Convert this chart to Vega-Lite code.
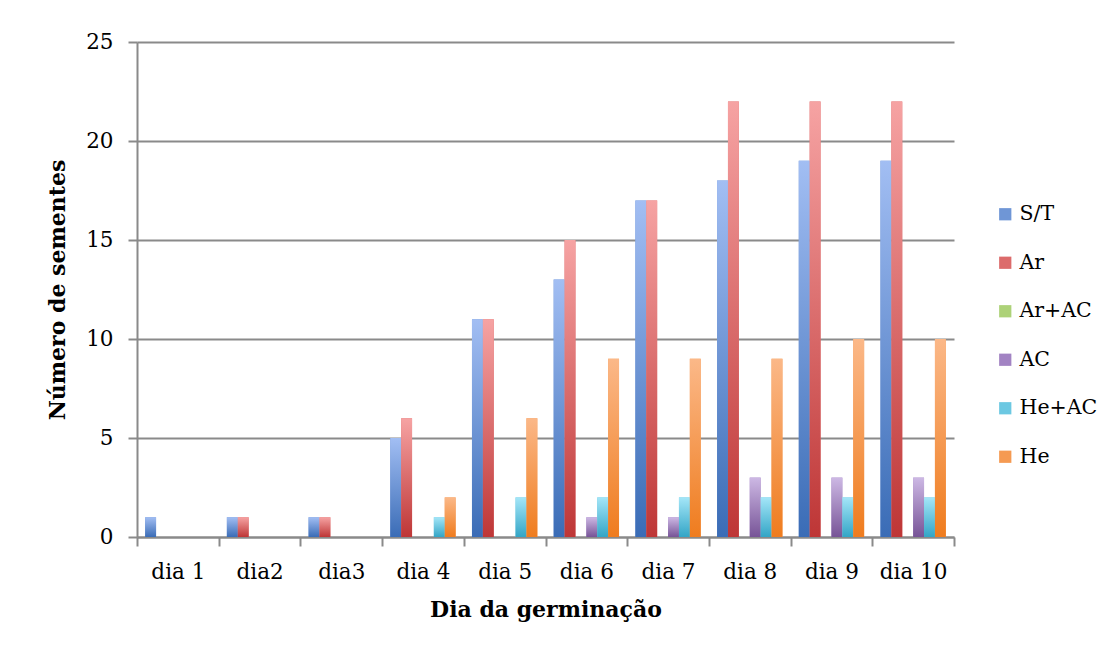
{
  "$schema": "https://vega.github.io/schema/vega-lite/v6.json",
  "width": 817,
  "height": 495,
  "autosize": {"type": "none"},
  "padding": {"left": 137, "top": 42, "right": 156, "bottom": 113},
  "background": "white",
  "data": {
    "values": [
      {"dia": "dia 1", "grupo": "S/T", "n": 1}, {"dia": "dia 1", "grupo": "Ar", "n": 0}, {"dia": "dia 1", "grupo": "Ar+AC", "n": 0}, {"dia": "dia 1", "grupo": "AC", "n": 0}, {"dia": "dia 1", "grupo": "He+AC", "n": 0}, {"dia": "dia 1", "grupo": "He", "n": 0},
      {"dia": "dia2", "grupo": "S/T", "n": 1}, {"dia": "dia2", "grupo": "Ar", "n": 1}, {"dia": "dia2", "grupo": "Ar+AC", "n": 0}, {"dia": "dia2", "grupo": "AC", "n": 0}, {"dia": "dia2", "grupo": "He+AC", "n": 0}, {"dia": "dia2", "grupo": "He", "n": 0},
      {"dia": "dia3", "grupo": "S/T", "n": 1}, {"dia": "dia3", "grupo": "Ar", "n": 1}, {"dia": "dia3", "grupo": "Ar+AC", "n": 0}, {"dia": "dia3", "grupo": "AC", "n": 0}, {"dia": "dia3", "grupo": "He+AC", "n": 0}, {"dia": "dia3", "grupo": "He", "n": 0},
      {"dia": "dia 4", "grupo": "S/T", "n": 5}, {"dia": "dia 4", "grupo": "Ar", "n": 6}, {"dia": "dia 4", "grupo": "Ar+AC", "n": 0}, {"dia": "dia 4", "grupo": "AC", "n": 0}, {"dia": "dia 4", "grupo": "He+AC", "n": 1}, {"dia": "dia 4", "grupo": "He", "n": 2},
      {"dia": "dia 5", "grupo": "S/T", "n": 11}, {"dia": "dia 5", "grupo": "Ar", "n": 11}, {"dia": "dia 5", "grupo": "Ar+AC", "n": 0}, {"dia": "dia 5", "grupo": "AC", "n": 0}, {"dia": "dia 5", "grupo": "He+AC", "n": 2}, {"dia": "dia 5", "grupo": "He", "n": 6},
      {"dia": "dia 6", "grupo": "S/T", "n": 13}, {"dia": "dia 6", "grupo": "Ar", "n": 15}, {"dia": "dia 6", "grupo": "Ar+AC", "n": 0}, {"dia": "dia 6", "grupo": "AC", "n": 1}, {"dia": "dia 6", "grupo": "He+AC", "n": 2}, {"dia": "dia 6", "grupo": "He", "n": 9},
      {"dia": "dia 7", "grupo": "S/T", "n": 17}, {"dia": "dia 7", "grupo": "Ar", "n": 17}, {"dia": "dia 7", "grupo": "Ar+AC", "n": 0}, {"dia": "dia 7", "grupo": "AC", "n": 1}, {"dia": "dia 7", "grupo": "He+AC", "n": 2}, {"dia": "dia 7", "grupo": "He", "n": 9},
      {"dia": "dia 8", "grupo": "S/T", "n": 18}, {"dia": "dia 8", "grupo": "Ar", "n": 22}, {"dia": "dia 8", "grupo": "Ar+AC", "n": 0}, {"dia": "dia 8", "grupo": "AC", "n": 3}, {"dia": "dia 8", "grupo": "He+AC", "n": 2}, {"dia": "dia 8", "grupo": "He", "n": 9},
      {"dia": "dia 9", "grupo": "S/T", "n": 19}, {"dia": "dia 9", "grupo": "Ar", "n": 22}, {"dia": "dia 9", "grupo": "Ar+AC", "n": 0}, {"dia": "dia 9", "grupo": "AC", "n": 3}, {"dia": "dia 9", "grupo": "He+AC", "n": 2}, {"dia": "dia 9", "grupo": "He", "n": 10},
      {"dia": "dia 10", "grupo": "S/T", "n": 19}, {"dia": "dia 10", "grupo": "Ar", "n": 22}, {"dia": "dia 10", "grupo": "Ar+AC", "n": 0}, {"dia": "dia 10", "grupo": "AC", "n": 3}, {"dia": "dia 10", "grupo": "He+AC", "n": 2}, {"dia": "dia 10", "grupo": "He", "n": 10}
    ]
  },
  "encoding": {
    "x": {
      "field": "dia",
      "type": "nominal",
      "sort": null,
      "scale": {"paddingInner": 0, "paddingOuter": 0},
      "axis": {
        "title": "Dia da germinação",
        "labelAngle": 0,
        "tickBand": "extent",
        "ticks": true,
        "tickSize": 9,
        "labelPadding": 15,
        "titlePadding": 17
      }
    },
    "xOffset": {
      "field": "grupo",
      "type": "nominal",
      "sort": ["S/T", "Ar", "Ar+AC", "AC", "He+AC", "He"],
      "scale": {"paddingInner": 0, "paddingOuter": 0.75}
    },
    "y": {
      "field": "n",
      "type": "quantitative",
      "scale": {"domain": [0, 25], "nice": false},
      "axis": {
        "title": "Número de sementes",
        "values": [0, 5, 10, 15, 20, 25],
        "tickSize": 9,
        "labelPadding": 15,
        "titlePadding": 16,
        "grid": true
      }
    }
  },
  "layer": [
    {
      "mark": {"type": "bar"},
      "encoding": {
        "color": {
          "field": "grupo",
          "type": "nominal",
          "sort": ["S/T", "Ar", "Ar+AC", "AC", "He+AC", "He"],
          "scale": {
            "domain": ["S/T", "Ar", "Ar+AC", "AC", "He+AC", "He"],
            "range": ["#6f96d6", "#dc6b6b", "#add278", "#a283c3", "#6cc8e2", "#f59a52"]
          },
          "legend": {
            "title": null,
            "orient": "none",
            "legendX": 858,
            "legendY": 162,
            "symbolType": "square",
            "symbolSize": 150,
            "symbolStrokeWidth": 0,
            "labelFontSize": 20.5,
            "labelFont": "DejaVu Serif",
            "labelColor": "#000000",
            "labelOffset": 4,
            "rowPadding": 27.5,
            "labelLimit": 200
          }
        }
      }
    },
    {
      "mark": {"type": "bar"},
      "encoding": {
        "color": {
          "condition": [
            {"test": "datum.grupo === 'S/T'", "value": {"gradient": "linear", "x1": 0, "y1": 0, "x2": 0, "y2": 1, "stops": [{"offset": 0, "color": "#a2bef3"}, {"offset": 1, "color": "#3a6cb6"}]}},
            {"test": "datum.grupo === 'Ar'", "value": {"gradient": "linear", "x1": 0, "y1": 0, "x2": 0, "y2": 1, "stops": [{"offset": 0, "color": "#f6a3a3"}, {"offset": 1, "color": "#be3636"}]}},
            {"test": "datum.grupo === 'Ar+AC'", "value": {"gradient": "linear", "x1": 0, "y1": 0, "x2": 0, "y2": 1, "stops": [{"offset": 0, "color": "#cfe6a6"}, {"offset": 1, "color": "#8cbb4a"}]}},
            {"test": "datum.grupo === 'AC'", "value": {"gradient": "linear", "x1": 0, "y1": 0, "x2": 0, "y2": 1, "stops": [{"offset": 0, "color": "#cdb8e4"}, {"offset": 1, "color": "#775497"}]}},
            {"test": "datum.grupo === 'He+AC'", "value": {"gradient": "linear", "x1": 0, "y1": 0, "x2": 0, "y2": 1, "stops": [{"offset": 0, "color": "#a4e6f8"}, {"offset": 1, "color": "#33a5c6"}]}}
          ],
          "value": {"gradient": "linear", "x1": 0, "y1": 0, "x2": 0, "y2": 1, "stops": [{"offset": 0, "color": "#fbb888"}, {"offset": 1, "color": "#ef7c1e"}]}
        }
      }
    }
  ],
  "config": {
    "view": {"stroke": null},
    "font": "DejaVu Serif",
    "axis": {
      "labelFont": "DejaVu Serif",
      "labelFontSize": 21.5,
      "labelColor": "#000000",
      "titleFont": "DejaVu Serif",
      "titleFontSize": 22,
      "titleFontWeight": "bold",
      "titleColor": "#000000",
      "domainColor": "#8a8a8a",
      "domainWidth": 2,
      "tickColor": "#8a8a8a",
      "tickWidth": 2,
      "gridColor": "#8a8a8a",
      "gridWidth": 2,
      "gridOpacity": 1
    },
    "axisX": {"grid": false}
  }
}
